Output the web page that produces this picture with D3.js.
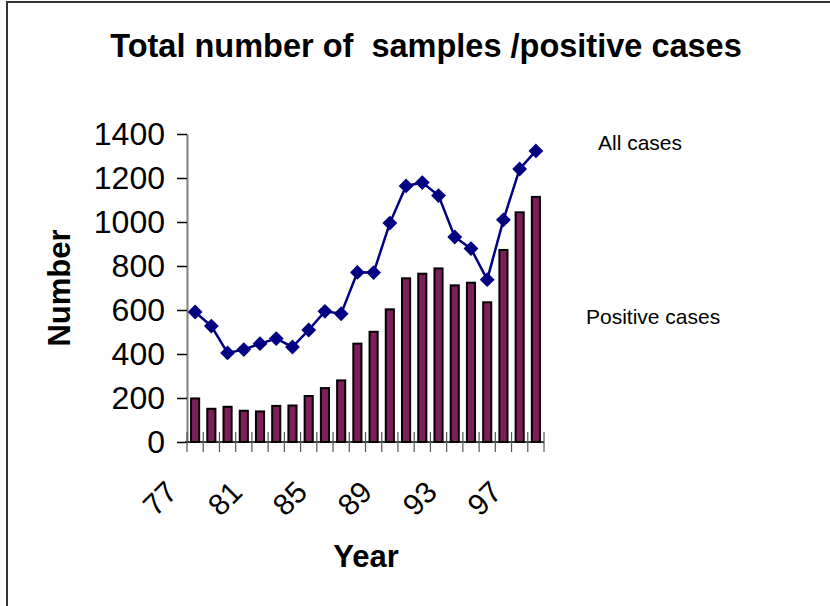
<!DOCTYPE html>
<html>
<head>
<meta charset="utf-8">
<script src="https://cdn.jsdelivr.net/npm/d3@7"></script>
<style>
  body { margin: 0; background: #fff; }
  text { font-family: "Liberation Sans", Arial, sans-serif; }
</style>
</head>
<body>
<script>
// data
var years = ['77','78','79','80','81','82','83','84','85','86','87','88','89','90','91','92','93','94','95','96','97','98'];
var allCases = [591, 527, 405, 420, 447, 470, 432, 509, 594, 583, 771, 770, 995, 1164, 1179, 1120, 932, 879, 738, 1010, 1241, 1323];
var positiveCases = [198, 151, 160, 142, 139, 164, 166, 209, 245, 280, 447, 501, 603, 744, 765, 789, 712, 724, 635, 873, 1044, 1114];
var yTicks = [0, 200, 400, 600, 800, 1000, 1200, 1400];
var shownYears = ['77','81','85','89','93','97'];

var W = 830, H = 606;
var plot = { left: 187, right: 544, top: 134, bottom: 442 };

var svg = d3.select('body').append('svg')
    .attr('width', W)
    .attr('height', H);

// frame (only top and left edges are visible in the original)
svg.append('path')
    .attr('d', 'M7,' + H + 'V2H' + W)
    .attr('fill', 'none')
    .attr('stroke', '#333')
    .attr('stroke-width', 2);

var x = d3.scaleBand()
    .domain(years)
    .range([plot.left, plot.right])
    .paddingInner(0.5)
    .paddingOuter(0.25);

var y = d3.scaleLinear()
    .domain([0, 1400])
    .range([plot.bottom, plot.top]);

// title
svg.append('text')
    .attr('x', 426)
    .attr('y', 57)
    .attr('text-anchor', 'middle')
    .style('font-size', '32.5px')
    .style('font-weight', 'bold')
    .style('white-space', 'pre')
    .text('Total number of  samples /positive cases');

// y axis
var yAxis = svg.append('g')
    .attr('transform', 'translate(' + plot.left + ',0)')
    .call(d3.axisLeft(y).tickValues(yTicks).tickFormat(d3.format('d'))
        .tickSize(10).tickPadding(12).tickSizeOuter(0));
yAxis.select('.domain').attr('stroke', '#808080').attr('stroke-width', 2);
yAxis.selectAll('.tick line').attr('stroke', '#000').attr('stroke-width', 1.5);
yAxis.selectAll('.tick text')
    .style('font-size', '32px')
    .style('font-family', '"Liberation Sans", Arial, sans-serif')
    .attr('fill', '#000');

// bars
svg.append('g')
    .selectAll('rect')
    .data(positiveCases)
    .enter()
    .append('rect')
    .attr('x', function(d, i) { return x(years[i]); })
    .attr('y', function(d) { return y(d); })
    .attr('width', x.bandwidth())
    .attr('height', function(d) { return y(0) - y(d); })
    .attr('fill', '#7e1f5c')
    .attr('stroke', '#000')
    .attr('stroke-width', 2);

// x axis line + boundary ticks
svg.append('line')
    .attr('x1', plot.left - 2).attr('x2', plot.right)
    .attr('y1', plot.bottom).attr('y2', plot.bottom)
    .attr('stroke', '#000')
    .attr('stroke-width', 1.5);

var bounds = d3.range(years.length + 1);
svg.append('g')
    .selectAll('line')
    .data(bounds)
    .enter()
    .append('line')
    .attr('x1', function(i) { return plot.left + i * x.step(); })
    .attr('x2', function(i) { return plot.left + i * x.step(); })
    .attr('y1', plot.bottom - 10)
    .attr('y2', plot.bottom + 10)
    .attr('stroke', '#555')
    .attr('stroke-width', 1.2);

// x labels, rotated
svg.append('g')
    .selectAll('text')
    .data(shownYears)
    .enter()
    .append('text')
    .attr('transform', function(d) {
        var cx = x(d) + x.bandwidth() / 2;
        return 'translate(' + (cx - 16) + ',494) rotate(-45)';
    })
    .attr('text-anchor', 'end')
    .style('font-size', '30px')
    .text(function(d) { return d; });

// line + diamonds
var line = d3.line()
    .x(function(d, i) { return x(years[i]) + x.bandwidth() / 2; })
    .y(function(d) { return y(d); });

svg.append('path')
    .datum(allCases)
    .attr('d', line)
    .attr('fill', 'none')
    .attr('stroke', '#000080')
    .attr('stroke-width', 2.5);

var diamond = d3.symbol().type(d3.symbolSquare).size(110);
svg.append('g')
    .selectAll('path')
    .data(allCases)
    .enter()
    .append('path')
    .attr('d', diamond)
    .attr('transform', function(d, i) {
        return 'translate(' + (x(years[i]) + x.bandwidth() / 2) + ',' + y(d) + ') rotate(45)';
    })
    .attr('fill', '#000080');

// axis titles
svg.append('text')
    .attr('x', 366)
    .attr('y', 567)
    .attr('text-anchor', 'middle')
    .style('font-size', '31px')
    .style('font-weight', 'bold')
    .text('Year');

svg.append('text')
    .attr('transform', 'translate(70,288) rotate(-90)')
    .attr('text-anchor', 'middle')
    .style('font-size', '31px')
    .style('font-weight', 'bold')
    .text('Number');

// series labels
svg.append('text')
    .attr('x', 598)
    .attr('y', 150)
    .style('font-size', '21px')
    .text('All cases');

svg.append('text')
    .attr('x', 586)
    .attr('y', 324)
    .style('font-size', '21px')
    .text('Positive cases');
</script>
</body>
</html>
